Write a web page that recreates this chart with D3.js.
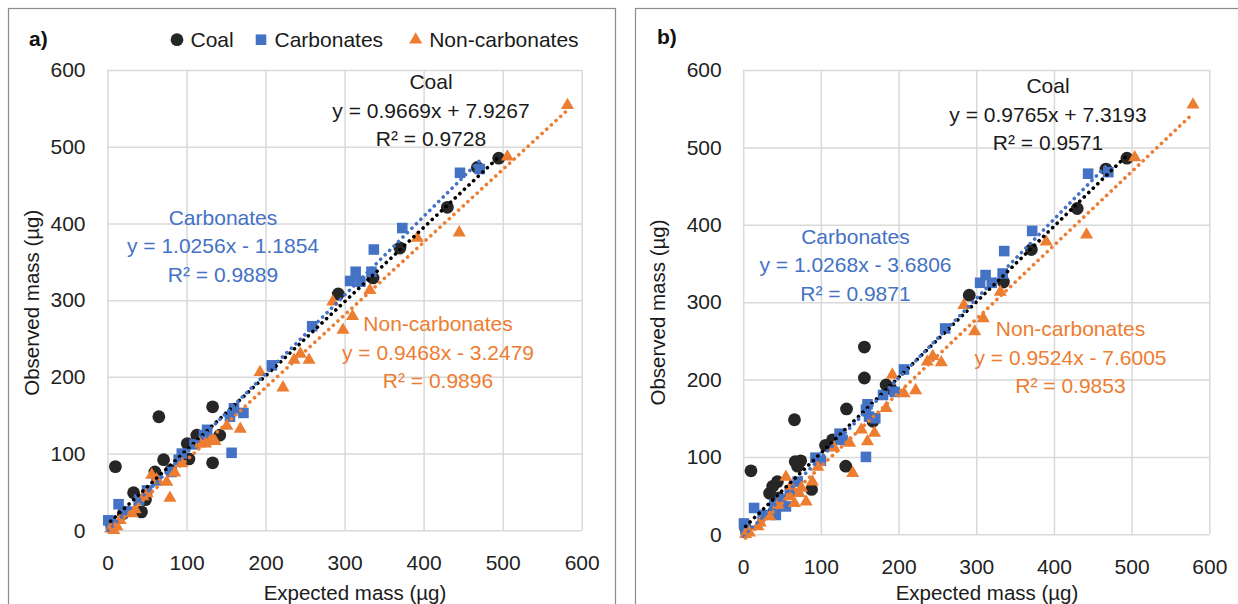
<!DOCTYPE html>
<html>
<head>
<meta charset="utf-8">
<script src="https://cdn.jsdelivr.net/npm/d3@7"></script>
<style>
  body { margin: 0; background: #fff; }
  svg { display: block; font-family: "Liberation Sans", Arial, sans-serif; }
  .grid line { stroke: #d9d9d9; stroke-width: 1.5; }
  .grid text { fill: #222; font-size: 21px; }
</style>
</head>
<body>
<script>
// series names and tick values
const seriesNames = ["Coal", "Carbonates", "Non-carbonates"];
const tickValues = [0, 100, 200, 300, 400, 500, 600];

// panel a) : [expected, observed] in µg
const coalA = [[4,10],[10,83],[20,22],[33,49],[43,24],[48,40],[60,76],[65,148],[71,92],[80,78],
  [103,93],[101,113],[113,124],[133,161],[133,88],[142,124],[292,308],[336,329],[370,368],
  [430,421],[468,473],[495,485]];
const carbA = [[1,13],[4,8],[14,34],[22,25],[40,40],[50,52],[62,65],[81,76],[90,92],[94,100],
  [110,112],[122,124],[126,131],[155,148],[157,101],[160,159],[172,153],[208,215],[259,266],
  [307,325],[314,337],[320,324],[334,337],[337,366],[373,394],[446,466],[471,471]];
const nonA = [[4,2],[8,0],[12,5],[16,13],[31,22],[35,27],[45,44],[50,48],[56,72],[62,66],[75,63],
  [79,42],[85,75],[94,87],[117,113],[124,113],[130,116],[136,116],[151,136],[168,132],[193,206],
  [222,186],[236,222],[244,230],[255,222],[285,298],[298,261],[310,279],[332,313],[392,381],
  [445,388],[506,487],[582,554]];

// panel b)
const coalB = [[3,8],[10,82],[34,53],[38,62],[44,68],[46,47],[40,30],[66,148],[67,94],[74,95],
  [70,88],[88,58],[106,115],[115,122],[132,88],[133,162],[156,242],[156,202],[167,146],
  [184,193],[190,188],[291,309],[335,326],[371,368],[430,421],[467,472],[494,486]];
const carbB = [[1,14],[3,6],[14,34],[25,25],[40,38],[42,25],[48,45],[55,36],[60,55],[70,68],
  [93,99],[100,95],[124,130],[128,122],[158,100],[158,161],[160,168],[162,152],[170,150],
  [180,180],[195,184],[207,213],[260,266],[305,325],[312,335],[320,325],[334,337],[336,366],
  [372,392],[444,466],[470,468]];
const nonB = [[3,0],[8,2],[19,10],[22,15],[34,23],[45,38],[55,74],[59,49],[61,62],[66,40],
  [72,53],[75,60],[81,42],[89,68],[96,87],[117,112],[137,118],[141,79],[152,135],[160,120],
  [169,131],[184,163],[192,206],[207,182],[222,186],[237,223],[244,230],[255,222],[284,296],
  [298,262],[309,279],[331,313],[390,378],[442,387],[504,487],[579,555]];

// linear trendlines: coal, carbonates, non-carbonates
const slopesA = [0.9669, 1.0256, 0.9468];
const interceptsA = [7.9267, -1.1854, -3.2479];
const r2A = [0.9728, 0.9889, 0.9896];
const slopesB = [0.9765, 1.0268, 0.9524];
const interceptsB = [7.3193, -3.6806, -7.6005];
const r2B = [0.9571, 0.9871, 0.9853];

const colors = ["#262626", "#4472c4", "#ed7d31"];
const W = 1238, H = 604;

const svg = d3.select("body").append("svg")
    .attr("width", W)
    .attr("height", H);
svg.append("rect").attr("width", W).attr("height", H).attr("fill", "#fff");

// panel frames
svg.append("rect").attr("x", 8.5).attr("y", 8.5).attr("width", 607).attr("height", 640)
  .attr("fill", "none").attr("stroke", "#8c8c8c").attr("stroke-width", 1.2);
svg.append("rect").attr("x", 635.5).attr("y", 8.5).attr("width", 640).attr("height", 640)
  .attr("fill", "none").attr("stroke", "#8c8c8c").attr("stroke-width", 1.2);

function marker(g, i) {
  if (i === 0) return g.append("circle").attr("r", 6.4);
  const type = i === 1 ? d3.symbolSquare : d3.symbolTriangle;
  const size = i === 1 ? 112 : 74;
  return g.append("path").attr("d", d3.symbol(type, size)());
}

function eqText(m, b) {
  return "y = " + m.toFixed(4) + "x " + (b < 0 ? "- " : "+ ") + Math.abs(b).toFixed(4);
}

function drawPanel(p) {
  const x = d3.scaleLinear().domain([0, 600]).range([p.left, p.right]);
  const y = d3.scaleLinear().domain([0, 600]).range([p.bottom, p.top]);
  const g = svg.append("g");

  // gridlines + tick labels
  g.append("g").attr("class", "grid")
    .attr("transform", "translate(" + p.left + ",0)")
    .call(d3.axisLeft(y).tickValues(tickValues).tickSize(-(p.right - p.left)).tickPadding(p.padY))
    .call(a => a.select(".domain").remove());
  g.append("g").attr("class", "grid")
    .attr("transform", "translate(0," + p.bottom + ")")
    .call(d3.axisBottom(x).tickValues(tickValues).tickSize(-(p.bottom - p.top)).tickPadding(25))
    .call(a => a.select(".domain").remove());

  // points, coal first then carbonates then non-carbonates
  p.series.forEach((data, i) => {
    data.forEach(d => {
      const m = marker(g, i).attr("fill", colors[i]);
      if (i === 0) m.attr("cx", x(d[0])).attr("cy", y(d[1]));
      else m.attr("transform", "translate(" + x(d[0]) + "," + y(d[1]) + ")");
    });
  });

  // dotted trendlines over the markers
  p.series.forEach((data, i) => {
    const ext = d3.extent(data, d => d[0]);
    const line = d3.line().x(d => x(d)).y(d => y(p.slopes[i] * d + p.intercepts[i]));
    g.append("path")
      .attr("d", line(ext))
      .attr("fill", "none")
      .attr("stroke", colors[i] === "#262626" ? "#000" : colors[i])
      .attr("stroke-width", 3.6)
      .attr("stroke-linecap", "round")
      .attr("stroke-dasharray", "0.1 6.2");
  });

  // equation labels
  p.labels.forEach((pos, i) => {
    const lines = [seriesNames[i], eqText(p.slopes[i], p.intercepts[i]), "R² = " + p.r2[i].toFixed(4)];
    lines.forEach((t, k) => {
      g.append("text")
        .attr("x", pos[0]).attr("y", pos[1] + k * 28.6)
        .attr("text-anchor", "middle")
        .attr("font-size", 21)
        .attr("fill", i === 0 ? "#1a1a1a" : colors[i])
        .text(t);
    });
  });

  // axis titles
  g.append("text")
    .attr("x", p.xTitle[0]).attr("y", p.xTitle[1])
    .attr("text-anchor", "middle").attr("font-size", 20.5).attr("fill", "#1a1a1a")
    .text("Expected mass (µg)");
  g.append("text")
    .attr("transform", "translate(" + p.yTitle[0] + "," + p.yTitle[1] + ") rotate(-90)")
    .attr("text-anchor", "middle").attr("font-size", 20.5).attr("fill", "#1a1a1a")
    .text("Observed mass (µg)");

  // panel letter
  g.append("text")
    .attr("x", p.tag[0]).attr("y", p.tag[1])
    .attr("font-size", 21).attr("font-weight", "bold").attr("fill", "#111")
    .text(p.name);
}

drawPanel({
  name: "a)", left: 107.5, right: 581.7, top: 70, bottom: 530.3, padY: 22,
  series: [coalA, carbA, nonA], slopes: slopesA, intercepts: interceptsA, r2: r2A,
  labels: [[431, 89], [223, 224.5], [438, 331]],
  xTitle: [355, 600], yTitle: [39, 302.7], tag: [29, 46]
});
drawPanel({
  name: "b)", left: 743.2, right: 1209.3, top: 70, bottom: 534.3, padY: 21.5,
  series: [coalB, carbB, nonB], slopes: slopesB, intercepts: interceptsB, r2: r2B,
  labels: [[1048, 93], [855.5, 243.5], [1070.5, 336]],
  xTitle: [987, 599.5], yTitle: [665, 312.5], tag: [657, 44]
});

// legend (panel a)
const legend = svg.append("g");
const legendX = [177, 261, 415.7];
seriesNames.forEach((name, i) => {
  const m = marker(legend, i).attr("fill", colors[i]);
  if (i === 0) m.attr("cx", legendX[i]).attr("cy", 39.7);
  else m.attr("transform", "translate(" + legendX[i] + ",39.7)");
  legend.append("text")
    .attr("x", legendX[i] + 13.5).attr("y", 47.2)
    .attr("font-size", 21).attr("fill", "#1a1a1a")
    .text(name);
});
</script>
</body>
</html>
